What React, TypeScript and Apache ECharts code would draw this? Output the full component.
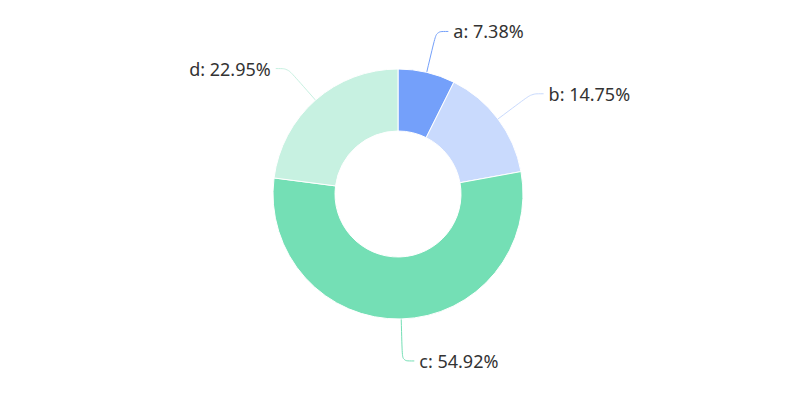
import React, { useEffect, useRef } from "react";
import * as echarts from "echarts";

const categories = ["a", "b", "c", "d"];
const values = [9, 18, 67, 28];
const colors = ["#74a0fa", "#c9dafd", "#74dfb5", "#c7f1e1"];

export default function App() {
  const ref = useRef<HTMLDivElement>(null);
  useEffect(() => {
    document.body.style.margin = "0";
    const chart = echarts.init(ref.current!, null, { renderer: "svg" });
    chart.setOption({
      animation: false,
      color: colors,
      series: [
        {
          type: "pie",
          radius: [63, 125],
          center: [398, 194],
          itemStyle: { borderColor: "#fff", borderWidth: 1 },
          label: {
            formatter: "{b}: {d}%",
            fontSize: 18,
            color: "#333",
            fontFamily: "Noto Sans, sans-serif",
          },
          labelLine: { smooth: true, length: 42, length2: 12 },
          data: categories.map((c, i) => ({ name: c, value: values[i] })),
        },
      ],
    });
    return () => chart.dispose();
  }, []);
  return <div ref={ref} style={{ width: 797, height: 399 }} />;
}
